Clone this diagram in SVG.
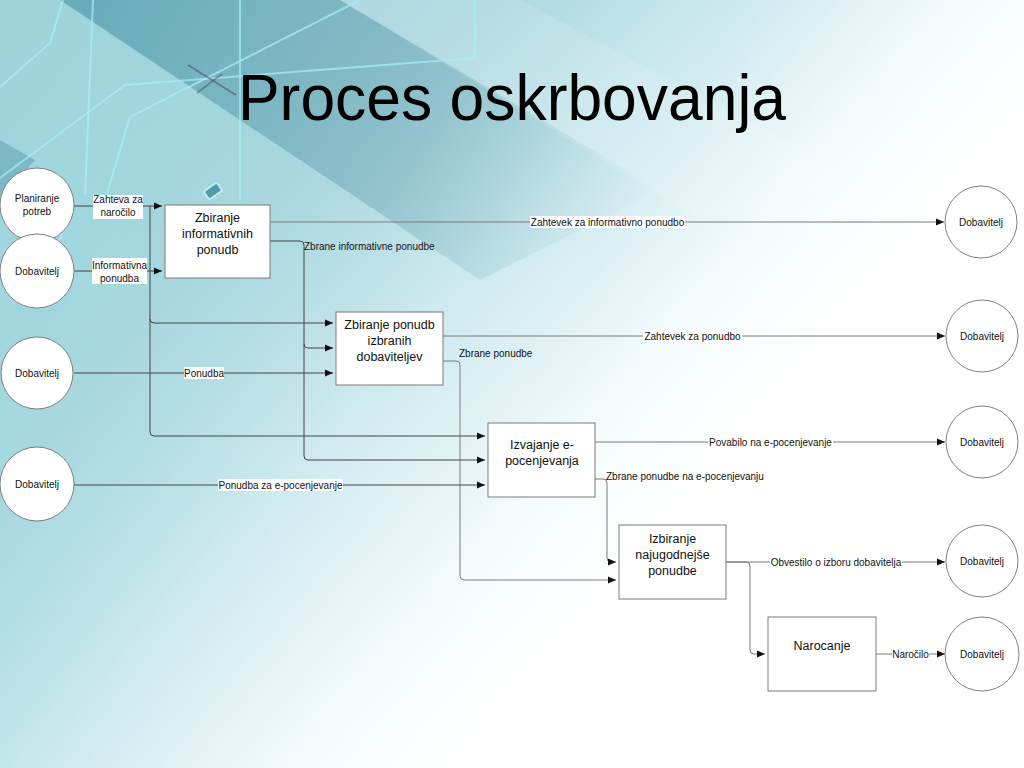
<svg xmlns="http://www.w3.org/2000/svg" width="1024" height="768" viewBox="0 0 1024 768">
<defs>
<linearGradient id="bg" gradientUnits="userSpaceOnUse" x1="0" y1="0" x2="640" y2="560">
<stop offset="0" stop-color="#3a8ca1"/>
<stop offset="0.35" stop-color="#74b8c6"/>
<stop offset="0.62" stop-color="#c4e6ec"/>
<stop offset="0.85" stop-color="#f4fbfc"/>
<stop offset="1" stop-color="#ffffff"/>
</linearGradient>
<linearGradient id="bg2" gradientUnits="userSpaceOnUse" x1="0" y1="400" x2="420" y2="620">
<stop offset="0" stop-color="#a9dbe2" stop-opacity="0.9"/>
<stop offset="1" stop-color="#ffffff" stop-opacity="0"/>
</linearGradient>
<linearGradient id="band" gradientUnits="userSpaceOnUse" x1="100" y1="0" x2="620" y2="260">
<stop offset="0" stop-color="#1f6e85" stop-opacity="0.4"/>
<stop offset="0.6" stop-color="#1f6e85" stop-opacity="0.22"/>
<stop offset="1" stop-color="#1f6e85" stop-opacity="0"/>
</linearGradient>
<marker id="arr" markerUnits="userSpaceOnUse" markerWidth="9" markerHeight="8" refX="8" refY="4" orient="auto">
<path d="M0,0.5 L8,4 L0,7.5 z" fill="#111"/>
</marker>
<style>
.node{fill:#fff;stroke:#808080;stroke-width:1}
.box{fill:#fff;stroke:#7a7a7a;stroke-width:1}
.ntext{font-family:"Liberation Sans",Arial,sans-serif;font-size:10px;fill:#111;text-anchor:middle}
.btext{font-family:"Liberation Sans",Arial,sans-serif;font-size:12.5px;fill:#111;text-anchor:middle}
.ltext{font-family:"Liberation Sans",Arial,sans-serif;font-size:10px;fill:#111}
.lbg{fill:#fff}
.conn{fill:none;stroke:#444;stroke-width:1}
.conn2{fill:none;stroke:#7a7a7a;stroke-width:1}
.deco{fill:none;stroke:#a6f0f7;stroke-width:2;opacity:0.7}
</style>
</defs>

<g id="background">
<rect width="1024" height="768" fill="url(#bg)"/>
<rect width="1024" height="768" fill="url(#bg2)"/>
<polygon points="60,0 340,0 660,190 480,280" fill="url(#band)"/>
<polygon points="340,0 520,0 860,180 700,220" fill="#ffffff" opacity="0.12"/>
<polygon points="0,140 35,160 0,200" fill="#2b7c92" opacity="0.3"/>
<polyline class="deco" points="0,87 50,43 63,0"/>
<polyline class="deco" points="93,0 85,195"/>
<polyline class="deco" points="0,178 125,85 475,58 475,0"/>
<polyline class="deco" points="360,0 130,117 105,200"/>
<polyline class="deco" points="240,0 240,200"/>
<polyline class="deco" points="70,195 60,240" opacity="0.5"/>
<rect x="205" y="186" width="16" height="10" rx="2" transform="rotate(-35 213 191)" fill="#3d8ea2" stroke="#c7f3f8" stroke-width="2" opacity="0.8"/>
<line x1="188" y1="65" x2="236" y2="95" stroke="#556" stroke-width="2" opacity="0.6"/>
<line x1="197" y1="93" x2="222" y2="74" stroke="#556" stroke-width="2" opacity="0.5"/>
</g>

<text x="238" y="120" font-family="'Liberation Sans',Arial,sans-serif" font-size="64" textLength="548" lengthAdjust="spacingAndGlyphs" fill="#000">Proces oskrbovanja</text>

<g id="connectors">
<path class="conn" d="M74,206 H162" marker-end="url(#arr)"/>
<path class="conn" d="M150,206 V319 Q150,323 154,323 H333" marker-end="url(#arr)"/>
<path class="conn" d="M150,319 V432 Q150,436 154,436 H485" marker-end="url(#arr)"/>
<path class="conn" d="M74,271 H162" marker-end="url(#arr)"/>
<path class="conn2" d="M270,222 H944" marker-end="url(#arr)"/>
<path class="conn" d="M270,241 H300 Q304,241 304,245 V344 Q304,348 308,348 H333" marker-end="url(#arr)"/>
<path class="conn" d="M304,344 V456 Q304,460 308,460 H485" marker-end="url(#arr)"/>
<path class="conn" d="M74,373 H333" marker-end="url(#arr)"/>
<path class="conn2" d="M443,336 H945" marker-end="url(#arr)"/>
<path class="conn2" d="M443,361 H456 Q460,361 460,365 V576 Q460,580 464,580 H616" marker-end="url(#arr)"/>
<path class="conn" d="M74,485 H485" marker-end="url(#arr)"/>
<path class="conn2" d="M595,442 H945" marker-end="url(#arr)"/>
<path class="conn2" d="M595,479 H603 Q607,479 607,483 V558 Q607,562 611,562 H616" marker-end="url(#arr)"/>
<path class="conn2" d="M726,562 H945" marker-end="url(#arr)"/>
<path class="conn2" d="M726,562 H746 Q750,562 750,566 V650 Q750,654 754,654 H765" marker-end="url(#arr)"/>
<path class="conn2" d="M876,654 H945" marker-end="url(#arr)"/>

<rect class="lbg" x="93" y="195" width="50" height="24"/>
<text class="ntext" x="118" y="203">Zahteva za</text>
<text class="ntext" x="118" y="216">naročilo</text>
<rect class="lbg" x="92" y="258" width="55" height="26"/>
<text class="ntext" x="119.5" y="268.5">Informativna</text>
<text class="ntext" x="119.5" y="281.5">ponudba</text>
<rect class="lbg" x="530" y="216" width="155" height="12"/>
<text class="ntext" x="607.5" y="225.5">Zahtevek za informativno ponudbo</text>
<text class="ltext" x="304" y="250">Zbrane informativne ponudbe</text>
<rect class="lbg" x="184" y="367" width="40" height="12"/>
<text class="ntext" x="204" y="376.5">Ponudba</text>
<rect class="lbg" x="643" y="330" width="99" height="12"/>
<text class="ntext" x="692.5" y="339.5">Zahtevek za ponudbo</text>
<text class="ltext" x="459" y="357">Zbrane ponudbe</text>
<rect class="lbg" x="218" y="479" width="125" height="12"/>
<text class="ntext" x="280.5" y="488.5">Ponudba za e-pocenjevanje</text>
<rect class="lbg" x="708" y="436" width="125" height="12"/>
<text class="ntext" x="770.5" y="445.5">Povabilo na e-pocenjevanje</text>
<text class="ltext" x="606" y="480">Zbrane ponudbe na e-pocenjevanju</text>
<rect class="lbg" x="770" y="556" width="132" height="12"/>
<text class="ntext" x="836" y="565.5">Obvestilo o izboru dobavitelja</text>
<rect class="lbg" x="892" y="648" width="37" height="12"/>
<text class="ntext" x="910.5" y="657.5">Naročilo</text>
</g>

<g id="n-planiranje"><circle class="node" cx="37" cy="205" r="37"/><text class="ntext" x="37" y="202">Planiranje</text><text class="ntext" x="37" y="215">potreb</text></g>
<g id="n-dob-l1"><circle class="node" cx="37" cy="271" r="37"/><text class="ntext" x="37" y="274.5">Dobavitelj</text></g>
<g id="n-dob-l2"><circle class="node" cx="37" cy="373" r="36"/><text class="ntext" x="37" y="376.5">Dobavitelj</text></g>
<g id="n-dob-l3"><circle class="node" cx="37" cy="484" r="37"/><text class="ntext" x="37" y="487.5">Dobavitelj</text></g>

<g id="n-zbiranje-inf"><rect class="box" x="165" y="205" width="105" height="73"/><text class="btext" x="217.5" y="222">Zbiranje</text><text class="btext" x="217.5" y="238">informativnih</text><text class="btext" x="217.5" y="254">ponudb</text></g>
<g id="n-zbiranje-pon"><rect class="box" x="336" y="312" width="107" height="73"/><text class="btext" x="389.5" y="329">Zbiranje ponudb</text><text class="btext" x="389.5" y="345">izbranih</text><text class="btext" x="389.5" y="361">dobaviteljev</text></g>
<g id="n-izvajanje"><rect class="box" x="488" y="423" width="107" height="74"/><text class="btext" x="542" y="449">Izvajanje e-</text><text class="btext" x="542" y="465">pocenjevanja</text></g>
<g id="n-izbiranje"><rect class="box" x="619" y="525" width="107" height="74"/><text class="btext" x="672.5" y="543">Izbiranje</text><text class="btext" x="672.5" y="559">najugodnejše</text><text class="btext" x="672.5" y="575">ponudbe</text></g>
<g id="n-narocanje"><rect class="box" x="768" y="617" width="108" height="74"/><text class="btext" x="822" y="650">Narocanje</text></g>

<g id="n-dob-r1"><circle class="node" cx="981" cy="222" r="36"/><text class="ntext" x="981" y="225.5">Dobavitelj</text></g>
<g id="n-dob-r2"><circle class="node" cx="982" cy="336" r="36"/><text class="ntext" x="982" y="339.5">Dobavitelj</text></g>
<g id="n-dob-r3"><circle class="node" cx="982" cy="442" r="36"/><text class="ntext" x="982" y="445.5">Dobavitelj</text></g>
<g id="n-dob-r4"><circle class="node" cx="982" cy="561" r="36"/><text class="ntext" x="982" y="564.5">Dobavitelj</text></g>
<g id="n-dob-r5"><circle class="node" cx="982" cy="654" r="37"/><text class="ntext" x="982" y="657.5">Dobavitelj</text></g>
</svg>
